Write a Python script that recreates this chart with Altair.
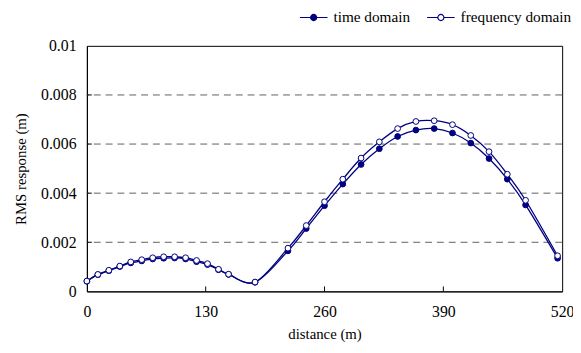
import altair as alt
import pandas as pd

series_names = ["time domain", "frequency domain"]

distance = [0, 12, 24, 36, 48, 60, 72, 84, 96, 108, 120, 132, 144, 155, 184,
            220, 240, 260, 280, 300, 320, 340, 360, 380, 400, 420, 440, 460, 480, 515]

time_domain = [0.00041, 0.00068, 0.00084, 0.00101, 0.00116, 0.00124, 0.00132, 0.00135,
               0.00136, 0.00132, 0.00121, 0.00109, 0.00088, 0.00069, 0.00037,
               0.00165, 0.00256, 0.00349, 0.00437, 0.00517, 0.00581, 0.00631, 0.00657,
               0.00663, 0.00645, 0.00604, 0.00541, 0.00457, 0.00352, 0.00135]

freq_domain = [0.00042, 0.00069, 0.00086, 0.00103, 0.00120, 0.00129, 0.00137, 0.00141,
               0.00141, 0.00137, 0.00126, 0.00113, 0.00090, 0.00070, 0.00038,
               0.00176, 0.00268, 0.00365, 0.00457, 0.00543, 0.00609, 0.00663, 0.00692,
               0.00695, 0.00679, 0.00635, 0.00569, 0.00477, 0.00371, 0.00145]

y_ticks = [0, 0.002, 0.004, 0.006, 0.008, 0.01]
x_ticks = [0, 130, 260, 390, 520]

rows = []
for d, v in zip(distance, time_domain):
    rows.append({"series": series_names[0], "distance": d, "value": v})
for d, v in zip(distance, freq_domain):
    rows.append({"series": series_names[1], "distance": d, "value": v})
df = pd.DataFrame(rows)

NAVY = "#000080"
FONT = "Liberation Serif"

legend_path = ("M-1,0H-0.22M0.22,0H1M-0.22,0A0.22,0.22 0 1 1 0.22,0"
               "A0.22,0.22 0 1 1 -0.22,0Z")
leg = alt.Legend(
    title=None, orient="none", legendX=215, legendY=-44, direction="horizontal",
    symbolType=legend_path, symbolSize=784, symbolStrokeWidth=1.2,
    labelFont=FONT, labelFontSize=15.5, labelColor="black", labelOffset=5,
    columnPadding=14, padding=0, labelLimit=200,
)

color_enc = alt.Color("series:N", scale=alt.Scale(domain=series_names, range=[NAVY, NAVY]), legend=leg)
fill_enc = alt.Fill("series:N", scale=alt.Scale(domain=series_names, range=[NAVY, "white"]), legend=leg)

x_enc = alt.X("distance:Q", scale=alt.Scale(domain=[0, 520], nice=False),
              axis=alt.Axis(values=x_ticks, title="distance (m)", grid=False, tickSize=0,
                            labelPadding=12, titlePadding=8, labelFlush=False))
y_enc = alt.Y("value:Q", scale=alt.Scale(domain=[0, 0.01], nice=False),
              axis=alt.Axis(values=y_ticks, title="RMS response (m)", grid=False,
                            tickSize=0, labelPadding=11, titlePadding=12,
                            labelExpr="format(datum.value, '.3~f')"))

grid_df = pd.DataFrame({"g": y_ticks[1:-1]})
grid = alt.Chart(grid_df).mark_rule(color="#606060", strokeWidth=1, strokeDash=[7, 5]).encode(
    y=alt.Y("g:Q", scale=alt.Scale(domain=[0, 0.01], nice=False)))

lines = alt.Chart(df).mark_line(interpolate="cardinal", strokeWidth=1.3).encode(
    x=x_enc, y=y_enc, color=color_enc, order="distance:Q")

points = alt.Chart(df).mark_point(size=34, strokeWidth=1, opacity=1, shape="circle").encode(
    x="distance:Q", y="value:Q", color=color_enc, fill=fill_enc)

ytick_df = pd.DataFrame({"v": y_ticks[1:-1]})
xtick_df = pd.DataFrame({"d": x_ticks[1:-1]})

yticks = alt.Chart(ytick_df).mark_rule(color="black", strokeWidth=1).encode(
    y="v:Q", x=alt.value(0), x2=alt.value(5))
xticks = alt.Chart(xtick_df).mark_rule(color="black", strokeWidth=1).encode(
    x="d:Q", y=alt.value(249), y2=alt.value(244))

chart = alt.layer(grid, lines, points, yticks, xticks).properties(
    width=482, height=249,
    background="white",
    autosize=alt.AutoSizeParams(type="none"),
    padding={"left": 80, "top": 36, "right": 11, "bottom": 52},
).configure_view(stroke="black", strokeWidth=1).configure_axis(
    domainColor="black", domainWidth=1,
    labelFont=FONT, labelFontSize=16, labelColor="black",
    titleFont=FONT, titleFontSize=15, titleColor="black", titleFontWeight="normal",
)

chart.save("out.html", embed_options={"renderer": "svg", "actions": False})
